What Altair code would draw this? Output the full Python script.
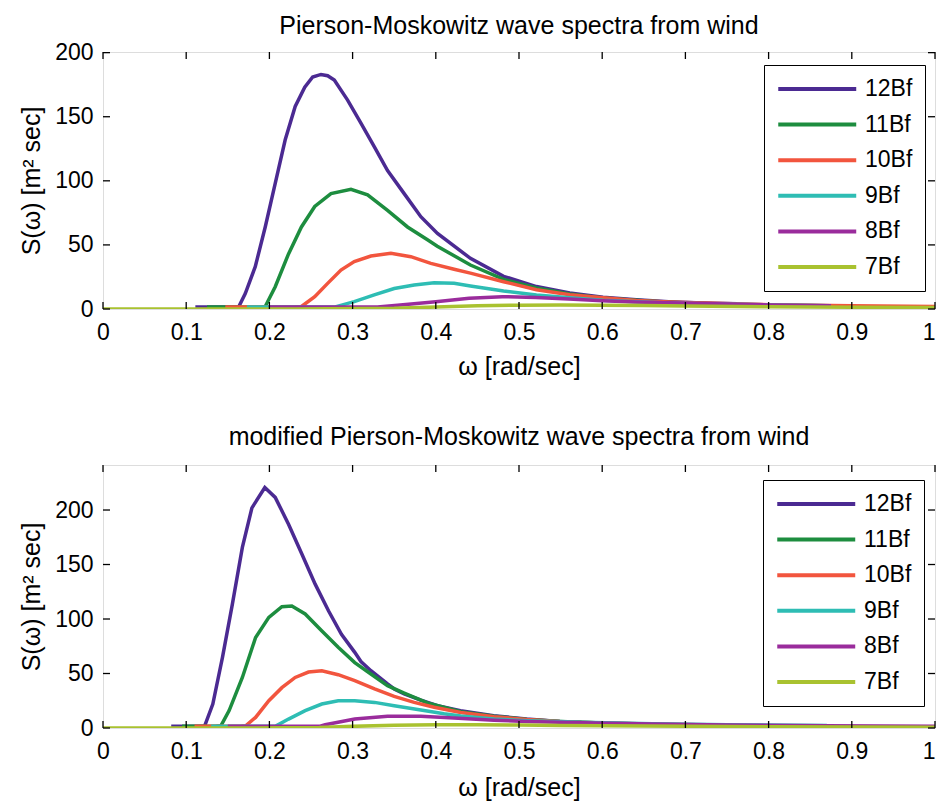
import altair as alt
import pandas as pd

SERIES = ["12Bf", "11Bf", "10Bf", "9Bf", "8Bf", "7Bf"]
COLORS = ["#4b2a92", "#1d8d3f", "#f2553e", "#2ebdb4", "#9a2c9c", "#a9c230"]

X_TICKS = [0, 0.1, 0.2, 0.3, 0.4, 0.5, 0.6, 0.7, 0.8, 0.9, 1.0]
Y_TICKS = [0, 50, 100, 150, 200]

# ---------------- top panel: Pierson-Moskowitz ----------------
pm_w_12 = [0.111, 0.150, 0.163, 0.171, 0.183, 0.195, 0.207, 0.219, 0.231, 0.2425, 0.252, 0.262, 0.270, 0.278,
           0.294, 0.310, 0.326, 0.342, 0.362, 0.382, 0.402, 0.4416, 0.4815, 0.521, 0.561, 0.601, 0.641, 0.680,
           0.721, 0.762]
pm_s_12 = [1.5, 1.5, 1.5, 12, 33, 64, 98, 132, 158, 173, 181, 183, 182, 178.6,
           163, 145, 126.6, 108, 90, 72, 59, 39.5, 25.5, 17.5, 12.5, 9.2, 7.2, 5.7,
           4.6, 4.0]
pm_w_11 = [0.125, 0.19, 0.195, 0.207, 0.223, 0.2385, 0.2545, 0.274, 0.298, 0.318, 0.342, 0.366, 0.390,
           0.4018, 0.4416, 0.4815, 0.521, 0.561, 0.601, 0.641, 0.680, 0.721, 0.76, 0.80, 0.87]
pm_s_11 = [1.5, 1.5, 2, 17.4, 43, 64, 80, 90, 93.4, 89, 77, 64, 54,
           49, 34.3, 23.1, 16.4, 11.7, 8.5, 6.8, 5.2, 4.2, 3.6, 3.2, 2.5]
pm_w_10 = [0.147, 0.23, 0.2385, 0.2545, 0.270, 0.286, 0.302, 0.322, 0.346, 0.370, 0.394, 0.422, 0.4416,
           0.4815, 0.521, 0.561, 0.601, 0.641, 0.680, 0.72, 0.80, 0.90, 1.0]
pm_s_10 = [1.5, 1.5, 2, 9.6, 20, 30.4, 37, 41.3, 43.4, 40.8, 35.6, 31, 28,
           21.3, 15, 11.2, 8.7, 6.6, 5.4, 4.6, 3.4, 2.5, 2.0]
pm_w_9 = [0.173, 0.27, 0.278, 0.302, 0.326, 0.350, 0.374, 0.398, 0.422, 0.4416, 0.4815, 0.521, 0.561,
          0.601, 0.641, 0.680, 0.74, 0.80, 0.875]
pm_s_9 = [1.5, 1.5, 1.5, 5.7, 11, 16, 18.7, 20.5, 20, 18, 14, 11, 8.8,
          6.8, 5.6, 4.7, 3.9, 3.2, 2.6]
pm_w_8 = [0.20, 0.33, 0.354, 0.40, 0.44, 0.48, 0.52, 0.56, 0.60, 0.64, 0.72, 0.80, 0.875]
pm_s_8 = [1.5, 1.5, 3, 5.7, 8.3, 9.6, 9, 7.8, 6.5, 5.5, 4.2, 3.2, 2.5]
pm_w_7 = [0, 0.23, 0.35, 0.40, 0.45, 0.50, 0.55, 0.60, 0.65, 0.70, 0.80, 0.90, 1.0]
pm_s_7 = [0, 0, 0.5, 1.5, 2.5, 3.0, 3.2, 3.0, 2.7, 2.4, 1.8, 1.4, 1.1]

# ---------------- bottom panel: modified Pierson-Moskowitz ----------------
mpm_w_12 = [0.082, 0.115, 0.122, 0.132, 0.1436, 0.1555, 0.1675, 0.179, 0.1945, 0.207, 0.223, 0.239, 0.255,
            0.271, 0.2866, 0.3026, 0.31, 0.322, 0.342, 0.350, 0.362, 0.382, 0.402, 0.4297, 0.4695, 0.509,
            0.549, 0.575]
mpm_s_12 = [1.5, 1.5, 1.5, 22, 64.8, 113.7, 165.7, 202, 220.7, 211.6, 187, 159.6, 132,
            107.6, 86, 69.4, 61, 52.6, 40.4, 35.8, 31.2, 25.5, 20.5, 15.9, 11.3, 8.2,
            6.0, 5.5]
mpm_w_11 = [0.095, 0.135, 0.1417, 0.1516, 0.1675, 0.1834, 0.1993, 0.215, 0.227, 0.243, 0.2628, 0.2827,
            0.3026, 0.322, 0.342, 0.362, 0.39, 0.43, 0.47, 0.51, 0.55, 0.60, 0.66]
mpm_s_11 = [1.5, 1.5, 2, 16, 46.4, 83, 101.5, 111.3, 112, 104.6, 89.3, 74,
            60, 49.5, 38.8, 32, 23, 15, 10.8, 7.8, 6, 4.5, 3.5]
mpm_w_10 = [0.11, 0.165, 0.1715, 0.1834, 0.1993, 0.215, 0.231, 0.247, 0.263, 0.2827, 0.3026, 0.3264,
            0.350, 0.374, 0.398, 0.43, 0.47, 0.509, 0.549, 0.60, 0.66, 0.75]
mpm_s_10 = [1.5, 1.5, 2, 9.7, 25, 37, 46.4, 51.3, 52.5, 48.9, 43.4, 35.8,
            29, 23.5, 19, 14.3, 10.4, 7.8, 6.0, 4.6, 3.6, 2.6]
mpm_w_9 = [0.13, 0.20, 0.207, 0.223, 0.243, 0.263, 0.2827, 0.3026, 0.3264, 0.350, 0.382, 0.41, 0.43,
           0.47, 0.51, 0.59, 0.66, 0.75, 0.87]
mpm_s_9 = [1.5, 1.5, 1.5, 8.2, 15.9, 22, 25, 25, 23.5, 20.5, 16.5, 13, 11,
           8.2, 6.7, 5.0, 4.0, 3.0, 2.2]
mpm_w_8 = [0.15, 0.26, 0.267, 0.3026, 0.342, 0.382, 0.4218, 0.47, 0.51, 0.59, 0.66, 0.75, 0.87, 1.0]
mpm_s_8 = [1.5, 1.5, 3, 8.2, 10.7, 10.7, 9.2, 7.2, 6, 4.6, 3.6, 2.8, 2.0, 1.5]
mpm_w_7 = [0, 0.17, 0.26, 0.30, 0.35, 0.40, 0.45, 0.50, 0.55, 0.60, 0.70, 0.80, 0.90, 1.0]
mpm_s_7 = [0, 0, 0.5, 1.5, 2.5, 3.0, 3.0, 2.7, 2.4, 2.1, 1.6, 1.2, 1.0, 0.8]

TOP_W = [pm_w_12, pm_w_11, pm_w_10, pm_w_9, pm_w_8, pm_w_7]
TOP_S = [pm_s_12, pm_s_11, pm_s_10, pm_s_9, pm_s_8, pm_s_7]
BOT_W = [mpm_w_12, mpm_w_11, mpm_w_10, mpm_w_9, mpm_w_8, mpm_w_7]
BOT_S = [mpm_s_12, mpm_s_11, mpm_s_10, mpm_s_9, mpm_s_8, mpm_s_7]

FONT = "Liberation Sans"
W = 832


def make_df(ws, ss):
    rows = []
    for name, wl, sl in zip(SERIES, ws, ss):
        for w, s in zip(wl, sl):
            rows.append({"omega": w, "S": s, "series": name})
    return pd.DataFrame(rows)


def panel(df, title, ymax, height, legend_x, legend_y, xtitle_pad, title_offset):
    xenc = alt.X("omega:Q", scale=alt.Scale(domain=[0, 1], nice=False, zero=False),
                 axis=alt.Axis(values=X_TICKS, format="~g", title="ω [rad/sec]", ticks=False,
                               domain=False, grid=False, labelPadding=12, titlePadding=xtitle_pad,
                               labelFontSize=23, titleFontSize=25, labelFont=FONT, titleFont=FONT,
                               labelColor="black", titleColor="black", titleFontWeight="normal",
                               labelFlush=False,
                               labelAlign=alt.condition("datum.value == 1", alt.value("right"),
                                                        alt.value("center"))))
    yenc = alt.Y("S:Q", scale=alt.Scale(domain=[0, ymax], nice=False, zero=True),
                 axis=alt.Axis(values=Y_TICKS, title="S(ω) [m² sec]", ticks=False, domain=False,
                               grid=False, labelPadding=10, titlePadding=10,
                               labelFontSize=23, titleFontSize=25, labelFont=FONT, titleFont=FONT,
                               labelColor="black", titleColor="black", titleFontWeight="normal",
                               labelFlush=False))
    cenc = alt.Color("series:N", scale=alt.Scale(domain=SERIES, range=COLORS),
                     legend=alt.Legend(title=None, orient="none", legendX=legend_x, legendY=legend_y,
                                       symbolType="M-1,0H7", symbolSize=380, symbolStrokeWidth=4,
                                       labelFontSize=23, labelFont=FONT, labelColor="black",
                                       strokeColor="black", fillColor="white", padding=12,
                                       rowPadding=11.6, labelOffset=65))
    layers = []
    for name in SERIES:
        layers.append(
            alt.Chart(df).transform_filter(alt.datum.series == name)
            .mark_line(strokeWidth=3.5, clip=True)
            .encode(x=xenc, y=yenc, color=cenc)
        )
    xt = alt.Chart(pd.DataFrame({"omega": X_TICKS})).mark_rule(color="black", strokeWidth=1.3)
    layers.append(xt.encode(x=xenc, y=alt.value(height), y2=alt.value(height - 7)))
    layers.append(xt.encode(x=xenc, y=alt.value(0), y2=alt.value(7)))
    yt = alt.Chart(pd.DataFrame({"S": Y_TICKS})).mark_rule(color="black", strokeWidth=1.3)
    layers.append(yt.encode(y=yenc, x=alt.value(0), x2=alt.value(7)))
    layers.append(yt.encode(y=yenc, x=alt.value(W), x2=alt.value(W - 7)))
    return alt.layer(*layers).properties(
        width=W, height=height,
        title=alt.TitleParams(title, fontSize=25, font=FONT, fontWeight="normal", color="black",
                              offset=title_offset, anchor="middle", frame="group"),
    )


top = panel(make_df(TOP_W, TOP_S), "Pierson-Moskowitz wave spectra from wind", 200.5, 257, 661, 13, 10, 3)
bottom = panel(make_df(BOT_W, BOT_S), "modified Pierson-Moskowitz wave spectra from wind", 241.3, 263,
               660, 15, 12, 14)

chart = alt.vconcat(top, bottom, spacing=44).resolve_scale(
    color="independent", x="independent", y="independent"
).properties(
    padding={"left": 11, "top": 5, "right": 0, "bottom": 0}
).configure_view(stroke="black", strokeWidth=1.5).configure(background="white")

chart.save("out.html", embed_options={"renderer": "svg", "actions": False})
